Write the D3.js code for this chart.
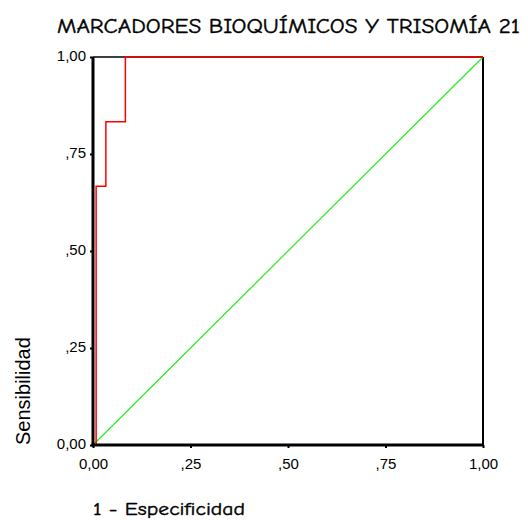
<!DOCTYPE html>
<html>
<head>
<meta charset="utf-8">
<script src="https://cdn.jsdelivr.net/npm/d3@7"></script>
<style>
  html, body { margin: 0; padding: 0; background: #fff; }
  svg { display: block; }
</style>
</head>
<body>
<svg id="chart" width="528" height="520"></svg>
<script>
// ROC curve: 1 - specificity (x) against sensitivity (y)
const rocFpr  = [0, 0.008, 0.008, 0.033, 0.033, 0.083, 0.083, 1];
const rocTpr  = [0, 0,     0.667, 0.667, 0.833, 0.833, 1,     1];
// reference (chance) line
const refFpr = [0, 1];
const refTpr = [0, 1];
const tickValues = [0, 0.25, 0.5, 0.75, 1];
const tickLabels = ["0,00", ",25", ",50", ",75", "1,00"];

const titleText = "MARCADORES BIOQUÍMICOS Y TRISOMÍA 21";
const xTitle = "1 - Especificidad";
const yTitle = "Sensibilidad";

const svg = d3.select("#chart");
const plot = { left: 93, right: 483, top: 57, bottom: 445 };

const x = d3.scaleLinear().domain([0, 1]).range([plot.left, plot.right]);
const y = d3.scaleLinear().domain([0, 1]).range([plot.bottom, plot.top]);

const comic = "'Comic Sans MS', 'Comic Neue', 'DejaVu Sans', sans-serif";
const sans = "'Liberation Sans', Arial, sans-serif";

// frame: top and right edges
svg.append("line").attr("x1", x(0)).attr("x2", x(1)).attr("y1", y(1)).attr("y2", y(1))
  .attr("stroke", "#000").attr("stroke-width", 1.5);
svg.append("line").attr("x1", x(1)).attr("x2", x(1)).attr("y1", y(1)).attr("y2", y(0))
  .attr("stroke", "#000").attr("stroke-width", 2);

// chance diagonal
const line = d3.line().x(d => x(d[0])).y(d => y(d[1]));
svg.append("path")
  .datum(d3.zip(refFpr, refTpr))
  .attr("d", line)
  .attr("fill", "none")
  .attr("stroke", "#22ee22")
  .attr("stroke-width", 1.2);

// ROC step curve
svg.append("path")
  .datum(d3.zip(rocFpr, rocTpr))
  .attr("d", line)
  .attr("fill", "none")
  .attr("stroke", "#ff0000")
  .attr("stroke-width", 1.5);

// axes
const fmt = d => tickLabels[tickValues.indexOf(d)];
const xAxis = d3.axisBottom(x).tickValues(tickValues).tickFormat(fmt).tickSize(3).tickPadding(10);
const yAxis = d3.axisLeft(y).tickValues(tickValues).tickFormat(fmt).tickSize(3).tickPadding(4);

const gx = svg.append("g").attr("transform", `translate(0,${plot.bottom})`).call(xAxis);
const gy = svg.append("g").attr("transform", `translate(${plot.left},0)`).call(yAxis);

[gx, gy].forEach(g => {
  g.select(".domain").attr("stroke", "#000").attr("stroke-width", 3);
  g.selectAll(".tick line").attr("stroke", "#000").attr("stroke-width", 2);
  g.selectAll(".tick text").attr("fill", "#000")
    .style("font-family", sans).style("font-size", "15px");
});
gx.select(".domain").attr("d", `M${plot.left - 1.5},0H${plot.right}`);
gy.select(".domain").attr("d", `M0,${plot.top}V${plot.bottom + 1.5}`);
gy.selectAll(".tick text").attr("dy", "0.2em");

// title
svg.append("text")
  .attr("x", 57).attr("y", 33)
  .attr("textLength", 463).attr("lengthAdjust", "spacingAndGlyphs")
  .style("font-family", comic).style("font-size", "20px")
  .attr("fill", "#000")
  .attr("stroke", "#000").attr("stroke-width", 0.4)
  .text(titleText);

// x axis title
svg.append("text")
  .attr("x", 93).attr("y", 515)
  .attr("textLength", 152).attr("lengthAdjust", "spacingAndGlyphs")
  .style("font-family", comic).style("font-size", "18px")
  .attr("fill", "#000")
  .attr("stroke", "#000").attr("stroke-width", 0.4)
  .text(xTitle);

// y axis title
svg.append("text")
  .attr("transform", `translate(30,${plot.bottom}) rotate(-90)`)
  .style("font-family", sans).style("font-size", "20px")
  .attr("fill", "#000")
  .text(yTitle);
</script>
</body>
</html>
